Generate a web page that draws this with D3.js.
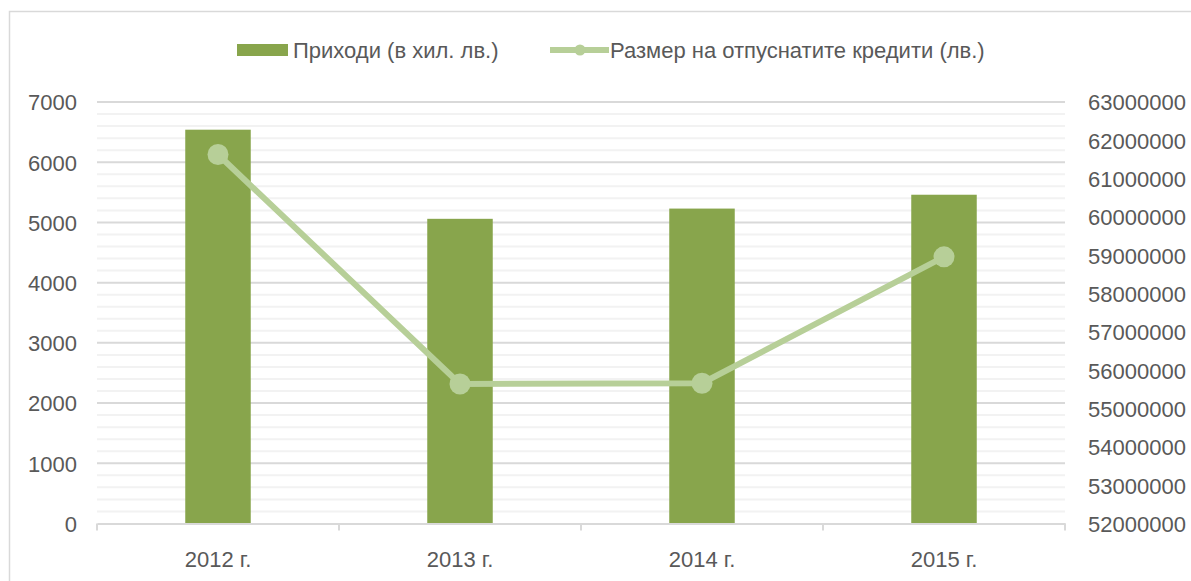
<html>
<head>
	<meta charset="utf-8">
	<title>Приходи и кредити</title>
</head>

<style>
body{
	margin: 0;
	background: #ffffff;
}
text{
	font-family: "Liberation Sans", Arial, sans-serif;
	font-size: 22px;
	fill: #595959;
}
.frame{
	fill: none;
	stroke: #d9d9d9;
	stroke-width: 1.5px;
}
.major{
	stroke: #d9d9d9;
	stroke-width: 2px;
}
.minor{
	stroke: #f2f2f2;
	stroke-width: 2px;
}
.bar{
	fill: #88a54c;
}
.line{
	fill: none;
	stroke: #b7cf98;
	stroke-width: 6px;
}
.dot{
	fill: #b7cf98;
}
</style>

<body>

<script src="https://cdn.jsdelivr.net/npm/d3@7/dist/d3.min.js" charset="utf-8"></script>
<script>

// данни
var years = ["2012 г.", "2013 г.", "2014 г.", "2015 г."];
var income = [6540, 5060, 5230, 5460];                    // хил. лв.
var credits = [61630000, 55640000, 55660000, 58960000];   // лв.

var leftTicks = [0, 1000, 2000, 3000, 4000, 5000, 6000, 7000];
var rightTicks = [52000000, 53000000, 54000000, 55000000, 56000000, 57000000,
                  58000000, 59000000, 60000000, 61000000, 62000000, 63000000];

var seriesNames = ["Приходи (в хил. лв.)", "Размер на отпуснатите кредити (лв.)"];

var width = 1191;
var height = 581;

var plot = {left: 97, right: 1065, top: 102, bottom: 523.5};

var svg = d3.select("body").append("svg")
			.attr("width", width)
			.attr("height", height);

// рамка
svg.append("rect")
	.attr("class", "frame")
	.attr("x", 9.5)
	.attr("y", 11.5)
	.attr("width", width + 20)
	.attr("height", height + 20);

var x = d3.scaleBand()
			.domain(years)
			.range([plot.left, plot.right])
			.paddingInner(0)
			.paddingOuter(0);

var y = d3.scaleLinear()
			.domain([0, 7000])
			.range([plot.bottom, plot.top]);

var y2 = d3.scaleLinear()
			.domain([52000000, 63000000])
			.range([plot.bottom, plot.top]);

// мрежа: второстепенни линии през 200
var minor = d3.range(200, 7000, 200).filter(function(v){ return v % 1000 != 0; });

svg.append("g").selectAll("line")
	.data(minor)
	.enter().append("line")
	.attr("class", "minor")
	.attr("x1", plot.left)
	.attr("x2", plot.right)
	.attr("y1", function(d){ return y(d); })
	.attr("y2", function(d){ return y(d); });

svg.append("g").selectAll("line")
	.data(leftTicks.slice(1))
	.enter().append("line")
	.attr("class", "major")
	.attr("x1", plot.left)
	.attr("x2", plot.right)
	.attr("y1", function(d){ return y(d); })
	.attr("y2", function(d){ return y(d); });

// лява ос
var leftAxis = svg.append("g")
	.attr("transform", "translate(" + 77 + ",0)")
	.call(d3.axisLeft(y).tickValues(leftTicks).tickSize(0).tickPadding(0).tickFormat(d3.format("d")));
leftAxis.select(".domain").remove();
leftAxis.selectAll("text").style("font-size", "22px").attr("fill", "#595959").attr("dy", "0.36em");

// дясна ос
var rightAxis = svg.append("g")
	.attr("transform", "translate(" + 1088 + ",0)")
	.call(d3.axisRight(y2).tickValues(rightTicks).tickSize(0).tickPadding(0).tickFormat(d3.format("d")));
rightAxis.select(".domain").remove();
rightAxis.selectAll("text").style("font-size", "22px").attr("fill", "#595959").attr("dy", "0.36em");

// стълбове
var barW = 65.5;
svg.append("g").selectAll("rect")
	.data(income)
	.enter().append("rect")
	.attr("class", "bar")
	.attr("x", function(d, i){ return x(years[i]) + x.bandwidth() / 2 - barW / 2; })
	.attr("y", function(d){ return y(d); })
	.attr("width", barW)
	.attr("height", function(d){ return plot.bottom - y(d); });

// хоризонтална ос
var bottomAxis = svg.append("g")
	.attr("transform", "translate(0," + plot.bottom + ")")
	.call(d3.axisBottom(x).tickSize(0).tickPadding(28));
bottomAxis.select(".domain")
	.attr("stroke", "#d9d9d9")
	.attr("stroke-width", 2);
bottomAxis.selectAll("text").style("font-size", "22px").attr("fill", "#595959");

var bounds = years.map(function(d){ return x(d); }).concat([plot.right]);
svg.append("g").selectAll("line")
	.data(bounds)
	.enter().append("line")
	.attr("stroke", "#d9d9d9")
	.attr("stroke-width", 2)
	.attr("x1", function(d){ return d; })
	.attr("x2", function(d){ return d; })
	.attr("y1", plot.bottom)
	.attr("y2", plot.bottom + 7);

// линия
var line = d3.line()
			.x(function(d, i){ return x(years[i]) + x.bandwidth() / 2; })
			.y(function(d){ return y2(d); });

svg.append("path")
	.datum(credits)
	.attr("class", "line")
	.attr("d", line);

svg.append("g").selectAll("circle")
	.data(credits)
	.enter().append("circle")
	.attr("class", "dot")
	.attr("cx", function(d, i){ return x(years[i]) + x.bandwidth() / 2; })
	.attr("cy", function(d){ return y2(d); })
	.attr("r", 10.5);

// легенда
var legend = svg.append("g");

legend.append("rect")
	.attr("class", "bar")
	.attr("x", 237)
	.attr("y", 44)
	.attr("width", 51)
	.attr("height", 12);

legend.append("text")
	.attr("x", 293)
	.attr("y", 50)
	.attr("dy", "0.36em")
	.text(seriesNames[0]);

legend.append("line")
	.attr("class", "line")
	.attr("x1", 550)
	.attr("x2", 609)
	.attr("y1", 50)
	.attr("y2", 50);

legend.append("circle")
	.attr("class", "dot")
	.attr("cx", 580)
	.attr("cy", 50)
	.attr("r", 5.5);

legend.append("text")
	.attr("x", 610)
	.attr("y", 50)
	.attr("dy", "0.36em")
	.text(seriesNames[1]);

</script>
</body>
</html>
